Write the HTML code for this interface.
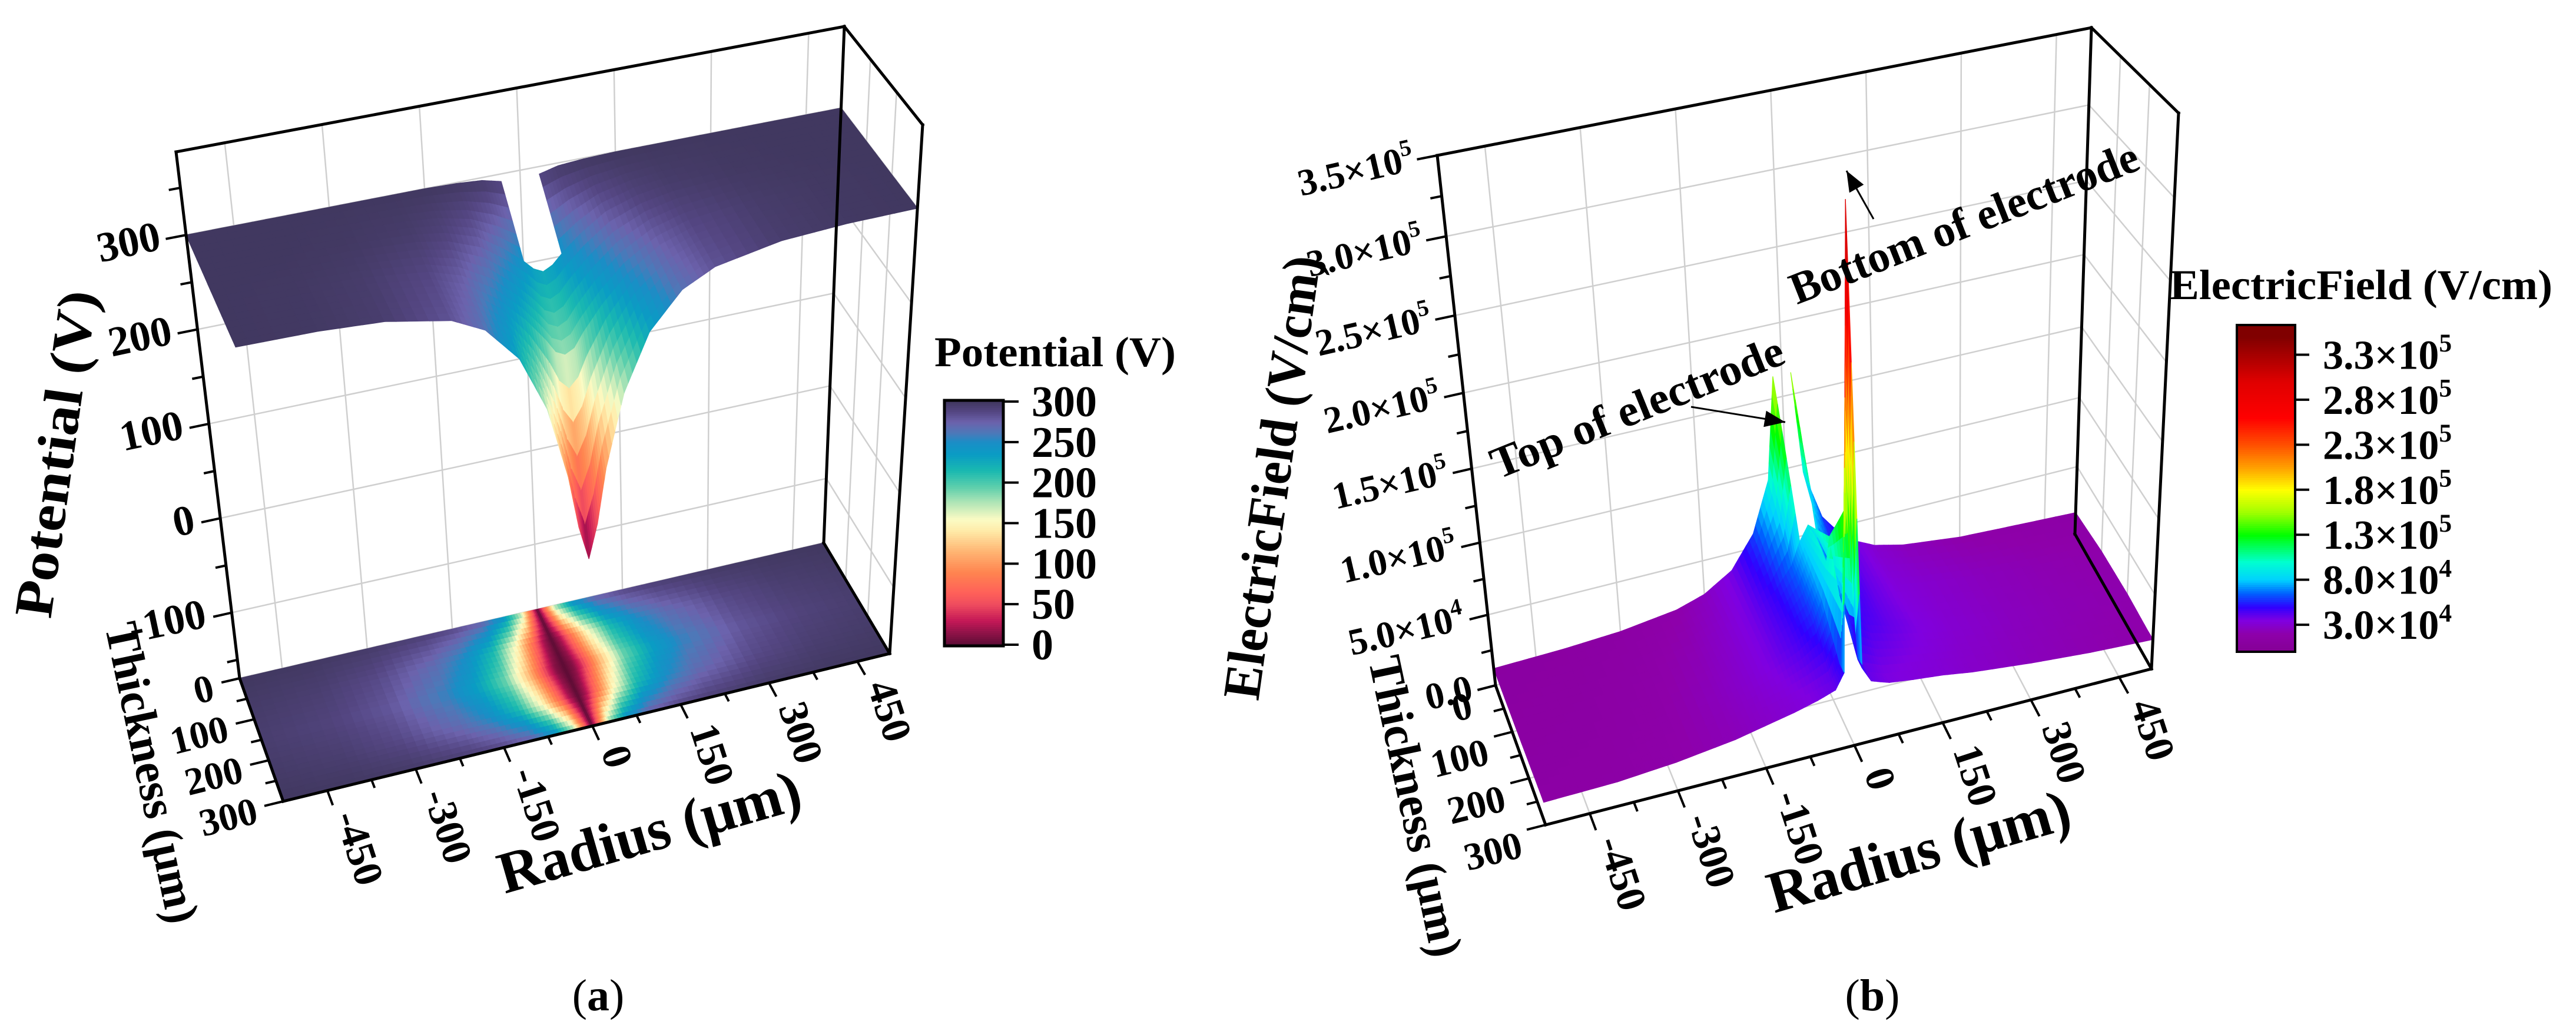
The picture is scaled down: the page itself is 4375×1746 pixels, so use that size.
<!DOCTYPE html>
<html><head><meta charset="utf-8"><style>
html,body{margin:0;padding:0;background:#fff;}
svg{display:block;font-family:"Liberation Serif","Times New Roman",serif;}
text{font-family:"Liberation Serif","Times New Roman",serif;}
</style></head><body>
<svg id="chart" width="4375" height="1746" viewBox="0 0 4375 1746"></svg>
<script>
// ---------- data ----------
const radiusTicks = [-450,-300,-150,0,150,300,450];
const thicknessTicks = [0,100,200,300];
const potentialTicks = [-100,0,100,200,300];
const potentialCbTicks = [0,50,100,150,200,250,300];
const efieldTicks = [0,50000,100000,150000,200000,250000,300000,350000];
const efieldTickMant = ['0.0','5.0','1.0','1.5','2.0','2.5','3.0','3.5'];
const efieldTickExp = ['','4','5','5','5','5','5','5'];
const efieldCbTicks = [30000,80000,130000,180000,230000,280000,330000];
const efieldCbMant = ['3.0','8.0','1.3','1.8','2.3','2.8','3.3'];
const efieldCbExp = ['4','4','5','5','5','5','5'];

const gridR = [-525,-400,-300,-200,-150,-100,-60,-30,-15,0,15,30,60,100,150,200,300,400,505];
const potT = [0,100,200,300];
const potRow0 = [300,300,300,300,300,299,297,292,null,null,null,292,297,299,300,300,300,300,300];
const potRow1 = [300,300,299,296,291,280,262,245,235,230,235,245,262,280,291,296,299,300,300];
const potRow2 = [300,299,296,287,275,252,225,200,185,180,185,200,225,252,275,287,296,299,300];
const potRow3 = [300,299,295,282,265,228,170,95,40,5,40,95,170,228,265,282,295,299,300];

const floorT = [0,75,150,225,300];
const floorRow0 = [300,299,297,292,287,275,245,180,90,0,90,180,245,275,287,292,297,299,300];
const floorRow1 = [297,294,286,268,250,215,150,70,25,0,25,70,150,215,250,268,286,294,297];
const floorRow2 = [295,290,280,255,232,190,115,40,12,0,12,40,115,190,232,255,280,290,295];
const floorRow3 = [297,294,286,268,250,215,150,70,25,0,25,70,150,215,250,268,286,294,297];
const floorRow4 = [300,299,297,292,287,275,245,180,90,0,90,180,245,275,287,292,297,299,300];

const efT = [0,100,200,280,300];
const efRow0 = [12000,13000,15000,20000,26000,38000,60000,95000,165000,null,165000,95000,60000,40000,30000,25000,20000,18000,16000];
const efRow1 = [13000,14000,17000,23000,29000,38000,50000,65000,80000,90000,80000,65000,50000,40000,33000,30000,25000,22000,20000];
const efRow2 = [14000,15000,18000,25000,30000,37000,45000,55000,70000,110000,70000,55000,45000,40000,35000,31000,26000,23000,21000];
const efRow3 = [15000,16000,19000,24000,28000,32000,36000,40000,50000,150000,50000,40000,36000,34000,32000,29000,25000,22000,20000];
const efRow4 = [15000,16000,19000,24000,28000,32000,36000,40000,50000,340000,50000,40000,36000,34000,32000,29000,25000,22000,20000];

// ---------- setup ----------
const svg = document.getElementById('chart');
const NS = svg.namespaceURI;
const FONT = '"Liberation Serif","Times New Roman",serif';
function mk(tag, attrs, parent){ const e=document.createElementNS(NS,tag); for(const k in attrs) e.setAttribute(k,attrs[k]); (parent||svg).appendChild(e); return e; }
function grp(parent){ return mk('g',{},parent); }

const PA = {rmin:-525,rmax:505,tmax:300,zmin:-169.5,zmax:388,nl:false,
  b:[[407,1152],[1399,922],[1511,1110],[481,1361]], t:[[299,258],[1434,45],[1567,212],[385,445]]};
const PB = {rmin:-525,rmax:505,tmax:300,zmin:0,zmax:350000,nl:true,
  b:[[2540,1164],[3524,907],[3654,1136],[2625,1401]], t:[[2441,264],[3552,47],[3700,192],[2545,430]]};

function lerp(a,b,s){ return [a[0]+(b[0]-a[0])*s, a[1]+(b[1]-a[1])*s]; }
function quadPt(q,u,v){ return lerp(lerp(q[0],q[1],u), lerp(q[3],q[2],u), v); }
function proj(P,r,t,z){
  const u=(r-P.rmin)/(P.rmax-P.rmin), v=t/P.tmax;
  let s=(z-P.zmin)/(P.zmax-P.zmin);
  if(P.nl) s = s*(0.92+0.08*s);
  return lerp(quadPt(P.b,u,v), quadPt(P.t,u,v), s);
}
function hex(c){ return [parseInt(c.slice(1,3),16),parseInt(c.slice(3,5),16),parseInt(c.slice(5,7),16)]; }
function cmap(stops,v){
  if(v<=stops[0][0]) return stops[0][1];
  for(let i=1;i<stops.length;i++){ if(v<=stops[i][0]){ const a=hex(stops[i-1][1]),b=hex(stops[i][1]); const s=(v-stops[i-1][0])/(stops[i][0]-stops[i-1][0]); return 'rgb('+a.map((x,k)=>Math.round(x+(b[k]-x)*s)).join(',')+')'; } }
  return stops[stops.length-1][1];
}
const potStops=[[0,'#5c0d35'],[15,'#8f1248'],[30,'#c41857'],[50,'#ef4c5e'],[65,'#ff6159'],[90,'#ff8550'],[115,'#ffb472'],[140,'#ffe9a6'],[155,'#fbfbc4'],[175,'#b4e6b7'],[195,'#5dcfac'],[215,'#1ab9b0'],[235,'#0a9cc4'],[250,'#1a8ec6'],[262,'#4e78b8'],[275,'#6c62ac'],[288,'#544682'],[300,'#413860']];
const efStops=[[0,'#840094'],[20000,'#8e00aa'],[35000,'#8000e0'],[50000,'#3000ff'],[65000,'#0060ff'],[80000,'#00d0ff'],[100000,'#00ffd0'],[130000,'#00ff00'],[155000,'#a0ff00'],[180000,'#ffff00'],[205000,'#ffa000'],[230000,'#ff5000'],[260000,'#ff0000'],[300000,'#e00000'],[350000,'#800000']];

function drawSurface(P,rs,ts,rows,stops,g,flat,sub){
  for(let j=0;j<ts.length-1;j++){
    for(let i=0;i<rs.length-1;i++){
      const a=rows[j][i],b=rows[j][i+1],c=rows[j+1][i+1],d=rows[j+1][i];
      if(a===null||b===null||c===null||d===null) continue;
      for(let q=0;q<sub;q++){ for(let p=0;p<sub;p++){
        const pts=[]; let vs=0;
        [[p,q],[p+1,q],[p+1,q+1],[p,q+1]].forEach(function(k){
          const su=k[0]/sub, sv=k[1]/sub;
          const val=(a*(1-su)+b*su)*(1-sv)+(d*(1-su)+c*su)*sv;
          vs+=val;
          const r=rs[i]+(rs[i+1]-rs[i])*su, t=ts[j]+(ts[j+1]-ts[j])*sv;
          const pt=proj(P,r,t,flat?P.zmin:val); pts.push(pt[0].toFixed(1)+','+pt[1].toFixed(1));
        });
        const col=cmap(stops,vs/4);
        const poly=mk('polygon',{points:pts.join(' '),fill:col,stroke:col,'stroke-width':1.2},g);
        
        
      }}
    }
  }
}
function line(p1,p2,attrs,g){ const a={x1:p1[0],y1:p1[1],x2:p2[0],y2:p2[1]}; for(const k in attrs)a[k]=attrs[k]; return mk('line',a,g); }
function text(x,y,str,size,anchor,rot,g,weight){
  const t=mk('text',{x:x,y:y,'font-size':size,'font-family':FONT,'text-anchor':anchor||'middle','font-weight':weight||'bold',transform:'rotate('+(rot||0)+' '+x+' '+y+')'},g);
  t.textContent=str; return t;
}
function sciText(x,y,mant,exp,size,anchor,rot,g){
  const t=mk('text',{x:x,y:y,'font-size':size,'font-family':FONT,'text-anchor':anchor,'font-weight':'bold',transform:'rotate('+rot+' '+x+' '+y+')'},g);
  const s1=mk('tspan',{},t); s1.textContent=exp?mant+'×10':mant;
  if(exp){ const s2=mk('tspan',{dy:-size*0.42,'font-size':size*0.62},t); s2.textContent=exp; }
  return t;
}

function drawFrame(P,g,zticks){
  const gridC='#cfcfcf';
  radiusTicks.forEach(function(r){ const l=line(proj(P,r,0,P.zmin),proj(P,r,0,P.zmax),{stroke:gridC,'stroke-width':2.5},g);
      });
  zticks.forEach(function(z){ const l=line(proj(P,P.rmin,0,z),proj(P,P.rmax,0,z),{stroke:gridC,'stroke-width':2.5},g);
     
    const l2=line(proj(P,P.rmax,0,z),proj(P,P.rmax,P.tmax,z),{stroke:gridC,'stroke-width':2.5},g);
      });
  thicknessTicks.forEach(function(t){ const l=line(proj(P,P.rmax,t,P.zmin),proj(P,P.rmax,t,P.zmax),{stroke:gridC,'stroke-width':2.5},g);
      });
  radiusTicks.forEach(function(r){ const l=line(proj(P,r,0,P.zmin),proj(P,r,P.tmax,P.zmin),{stroke:gridC,'stroke-width':2.5},g);
      });
  thicknessTicks.forEach(function(t){ const l=line(proj(P,P.rmin,t,P.zmin),proj(P,P.rmax,t,P.zmin),{stroke:gridC,'stroke-width':2.5},g);
      });
}
function drawAxes(P,g,zticks,zminor){
  const K={stroke:'#000','stroke-width':5,'stroke-linecap':'square'};
  const edges=[[[P.rmin,0,P.zmin],[P.rmin,0,P.zmax]],[[P.rmin,0,P.zmax],[P.rmax,0,P.zmax]],[[P.rmax,0,P.zmax],[P.rmax,P.tmax,P.zmax]],
    [[P.rmax,0,P.zmin],[P.rmax,0,P.zmax]],[[P.rmax,P.tmax,P.zmin],[P.rmax,P.tmax,P.zmax]],
    [[P.rmin,P.tmax,P.zmin],[P.rmax,P.tmax,P.zmin]],[[P.rmin,0,P.zmin],[P.rmin,P.tmax,P.zmin]],[[P.rmax,0,P.zmin],[P.rmax,P.tmax,P.zmin]]];
  edges.forEach(function(e,k){ const l=line(proj(P,e[0][0],e[0][1],e[0][2]),proj(P,e[1][0],e[1][1],e[1][2]),K,g);
    
     });
  zticks.concat(zminor).forEach(function(z,k){ const big=k<zticks.length;
    const l=line(proj(P,P.rmin,0,z),proj(P,P.rmin-(big?32:18),0,z),{stroke:'#000','stroke-width':4},g);
      });
  radiusTicks.forEach(function(r){ [0,75].forEach(function(off){ if(r+off>P.rmax) return;
    const l=line(proj(P,r+off,P.tmax,P.zmin),proj(P,r+off,P.tmax+(off?20:36),P.zmin),{stroke:'#000','stroke-width':4},g);
      }); });
  [0,50,100,150,200,250,300].forEach(function(t){
    const l=line(proj(P,P.rmin,t,P.zmin),proj(P,P.rmin-(t%100?18:32),t,P.zmin),{stroke:'#000','stroke-width':4},g);
      });
  radiusTicks.forEach(function(r){ const p=proj(P,r,P.tmax+40,P.zmin);
    const t=text(p[0]+2,p[1]+16,String(r),70,'start',72,g);   });
}

// ---------- panel A ----------
const gA=grp();  
drawFrame(PA,gA,potentialTicks);
const floorA=grp(gA);  
drawSurface(PA,gridR,floorT,[floorRow0,floorRow1,floorRow2,floorRow3,floorRow4],potStops,floorA,true,6);
const surfA=grp(gA);  
drawSurface(PA,gridR,potT,[potRow0,potRow1,potRow2,potRow3],potStops,surfA,false,6);
drawAxes(PA,gA,potentialTicks,[-150,-50,50,150,250,350]);
potentialTicks.forEach(function(z){ const p=proj(PA,PA.rmin,0,z);
  const t=text(p[0]-40,p[1]+24,String(z),72,'end',-12,gA);   });
thicknessTicks.forEach(function(tv){ const p=proj(PA,PA.rmin,tv,PA.zmin);
  const t=text(p[0]-40,p[1]+36,String(tv),66,'end',-14,gA);   });
let tt;
tt=text(125,775,'Potential (V)',92,'middle',-82,gA); tt.setAttribute('textLength',560); tt.setAttribute('lengthAdjust','spacingAndGlyphs');  
tt=text(232,1318,'Thickness (μm)',80,'middle',78,gA); tt.setAttribute('textLength',520); tt.setAttribute('lengthAdjust','spacingAndGlyphs');  
tt=text(1112,1445,'Radius (μm)',100,'middle',-16,gA); tt.setAttribute('textLength',530); tt.setAttribute('lengthAdjust','spacingAndGlyphs');  
// colorbar A
const cbA=grp(gA);  
const cbAy0=1095, cbAy1=682;
for(let k=0;k<120;k++){ const v=300*k/120; const y=cbAy0-(cbAy0-cbAy1)*(k+1)/120;
  const r=mk('rect',{x:1604,y:y.toFixed(1),width:100,height:((cbAy0-cbAy1)/120+1).toFixed(1),fill:cmap(potStops,v+1.25)},cbA);
    }
const cbAb=mk('rect',{x:1604,y:680,width:100,height:417,fill:'none',stroke:'#000','stroke-width':5},cbA);
 
potentialCbTicks.forEach(function(v){ const y=cbAy0-(cbAy0-cbAy1)*v/300;
  const l=line([1704,y],[1730,y],{stroke:'#000','stroke-width':4},cbA);  
  const t=text(1752,y+25,String(v),74,'start',0,cbA);   });
tt=text(1792,622,'Potential (V)',72,'middle',0,cbA); tt.setAttribute('textLength',410); tt.setAttribute('lengthAdjust','spacingAndGlyphs');  

// ---------- panel B ----------
const gB=grp();  
drawFrame(PB,gB,efieldTicks);
const surfB=grp(gB);  
drawSurface(PB,gridR,efT,[efRow0,efRow1,efRow2,efRow3,efRow4],efStops,surfB,false,6);
drawAxes(PB,gB,efieldTicks,[25000,75000,125000,175000,225000,275000,325000]);
efieldTicks.forEach(function(z,k){ const p=proj(PB,PB.rmin,0,z);
  const t=sciText(p[0]-36,p[1]+24,efieldTickMant[k],efieldTickExp[k],64,'end',-13,gB);   });
thicknessTicks.forEach(function(tv){ const p=proj(PB,PB.rmin,tv,PB.zmin);
  const t=text(p[0]-36,p[1]+54,String(tv),66,'end',-14,gB);   });
tt=text(2190,815,'ElectricField (V/cm)',90,'middle',-82,gB); tt.setAttribute('textLength',760); tt.setAttribute('lengthAdjust','spacingAndGlyphs');  
tt=text(2378,1375,'Thickness (μm)',80,'middle',78,gB); tt.setAttribute('textLength',520); tt.setAttribute('lengthAdjust','spacingAndGlyphs');  
tt=text(3268,1478,'Radius (μm)',100,'middle',-16,gB); tt.setAttribute('textLength',530); tt.setAttribute('lengthAdjust','spacingAndGlyphs');  
// annotations
tt=text(2790,715,'Top of electrode',76,'middle',-22,gB); tt.setAttribute('textLength',530); tt.setAttribute('lengthAdjust','spacingAndGlyphs');  
tt=text(3345,402,'Bottom of electrode',76,'middle',-21.5,gB); tt.setAttribute('textLength',630); tt.setAttribute('lengthAdjust','spacingAndGlyphs');  
const defs=mk('defs',{});
const mrk=mk('marker',{id:'arr',refX:10,refY:4,orient:'auto',markerUnits:'userSpaceOnUse'},defs);
mrk.setAttribute('viewBox','0 0 10 8'); mrk.setAttribute('markerWidth','36'); mrk.setAttribute('markerHeight','28');
mk('path',{d:'M0,0 L10,4 L0,8 Z',fill:'#000'},mrk);
let ar=line([2872,691],[3032,717],{stroke:'#000','stroke-width':3,'marker-end':'url(#arr)'},gB);  
ar=line([3182,372],[3136,290],{stroke:'#000','stroke-width':3,'marker-end':'url(#arr)'},gB);  
// colorbar B
const cbB=grp(gB);  
const cbBy0=1107, cbBy1=552, cbBv1=363000;
for(let k=0;k<150;k++){ const v=cbBv1*(k+0.5)/150; const y=cbBy0-(cbBy0-cbBy1)*(k+1)/150;
  const r=mk('rect',{x:3799,y:y.toFixed(1),width:99,height:((cbBy0-cbBy1)/150+1).toFixed(1),fill:cmap(efStops,v)},cbB);
    }
const cbBb=mk('rect',{x:3799,y:552,width:99,height:555,fill:'none',stroke:'#000','stroke-width':4},cbB);
 
efieldCbTicks.forEach(function(v,k){ const y=cbBy0-(cbBy0-cbBy1)*v/cbBv1;
  const l=line([3898,y],[3922,y],{stroke:'#000','stroke-width':4},cbB);  
  const t=sciText(3945,y+24,efieldCbMant[k],efieldCbExp[k],70,'start',0,cbB);   });
tt=text(4010,508,'ElectricField (V/cm)',72,'middle',0,cbB); tt.setAttribute('textLength',650); tt.setAttribute('lengthAdjust','spacingAndGlyphs');  

// captions
const capA=mk('text',{x:1016,y:1716,'font-size':76,'font-family':FONT,'text-anchor':'middle'});
 
capA.innerHTML='(<tspan font-weight="bold">a</tspan>)';
const capB=mk('text',{x:3180,y:1716,'font-size':76,'font-family':FONT,'text-anchor':'middle'});
 
capB.innerHTML='(<tspan font-weight="bold">b</tspan>)';
</script>
</body></html>
